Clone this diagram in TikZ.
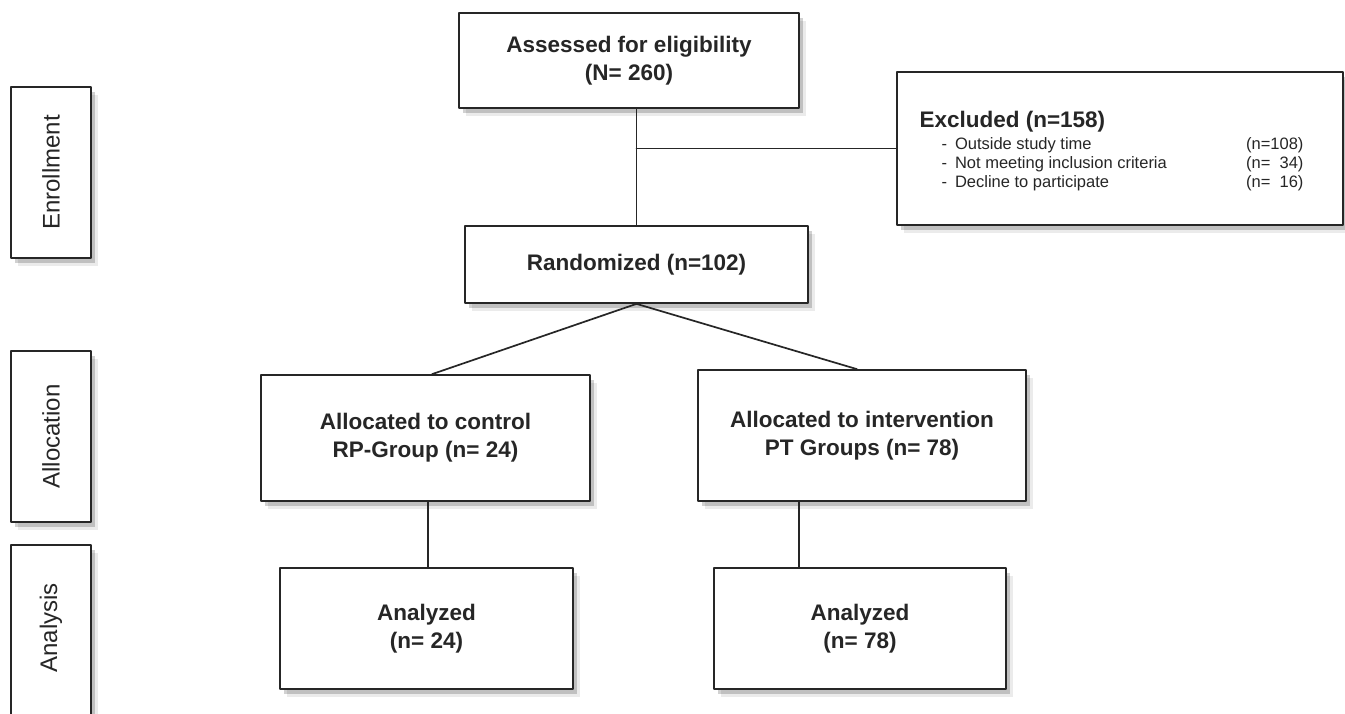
\documentclass[tikz,border=0pt]{standalone}
\usepackage{fontspec}
\setmainfont{Liberation Sans}
\usetikzlibrary{shadows}
\definecolor{ink}{HTML}{262626}
\begin{document}
\begin{tikzpicture}[x=1pt,y=-1pt,line join=round,line cap=round,
	box/.style={draw=ink,line width=1.7pt,fill=white,inner sep=0pt,
		drop shadow={shadow xshift=7pt,shadow yshift=-8pt,opacity=.08,fill=black},
		drop shadow={shadow xshift=4pt,shadow yshift=-5pt,opacity=.18,fill=black}},
	txt/.style={text=ink,font=\fontsize{22.5}{28}\selectfont\bfseries,align=center},
	side/.style={text=ink,font=\fontsize{24}{28}\selectfont,rotate=90},
	item/.style={text=ink,font=\fontsize{16.5}{19}\selectfont,anchor=west},
	link/.style={draw=ink,line width=1.7pt}]
	\clip (0,0) rectangle (1345,713);
	\fill[white] (0,0) rectangle (1345,713);
	% phase labels
	\node[box,minimum width=80pt,minimum height=171pt] (enrol) at (51,172.5) {};
	\node[side] (enrolt) at (enrol) {Enrollment};
	\node[box,minimum width=80pt,minimum height=171pt] (alloc) at (51,436.5) {};
	\node[side] (alloct) at (alloc) {Allocation};
	\node[box,minimum width=80pt,minimum height=175pt] (analy) at (51,632.5) {};
	\node[side] (analyt) at (51,628) {Analysis};
	% flow boxes
	\node[box,txt,minimum width=340pt,minimum height=95pt] (assess) at (629,60.5) {Assessed for eligibility\\(N= 260)};
	\node[box,txt,minimum width=343pt,minimum height=77pt] (rand) at (636.5,264.5) {Randomized (n=102)};
	\node[box,minimum width=446pt,minimum height=153pt] (excl) at (1120,148.5) {};
	\node[txt,anchor=west] (exclt) at (916,122) {Excluded (n=158)};
	\node[item] (ex1) at (938,145) {-\hspace{8pt}Outside study time};
	\node[item] (ex2) at (938,164) {-\hspace{8pt}Not meeting inclusion criteria};
	\node[item] (ex3) at (938,183) {-\hspace{8pt}Decline to participate};
	\node[item,anchor=east] (en1) at (1307,145) {(n=108)};
	\node[item,anchor=east] (en2) at (1307,164) {(n=\phantom{1}34)};
	\node[item,anchor=east] (en3) at (1307,183) {(n=\phantom{1}16)};
	\node[box,txt,minimum width=329pt,minimum height=126pt] (ctrl) at (425.5,438) {Allocated to control\\RP-Group (n= 24)};
	\node[box,txt,minimum width=328pt,minimum height=131pt] (intv) at (862,435.5) {Allocated to intervention\\PT Groups (n= 78)};
	\node[box,txt,minimum width=293pt,minimum height=121pt] (ana1) at (426.5,628.5) {Analyzed\\(n= 24)};
	\node[box,txt,minimum width=292pt,minimum height=121pt] (ana2) at (860,628.5) {Analyzed\\(n= 78)};
	% connectors
	\draw[link] (rand.north |- assess.south) -- (rand.north);
	\draw[link] (rand.north |- excl.west) -- (excl.west);
	\draw[link] (rand.south) -- ([xshift=6.5pt]ctrl.north);
	\draw[link] (rand.south) -- ([xshift=-5pt]intv.north);
	\draw[link] ([xshift=2.5pt]ctrl.south) -- ([xshift=2.5pt]ctrl.south |- ana1.north);
	\draw[link] ([xshift=-63pt]intv.south) -- ([xshift=-63pt]intv.south |- ana2.north);
\end{tikzpicture}
\end{document}
